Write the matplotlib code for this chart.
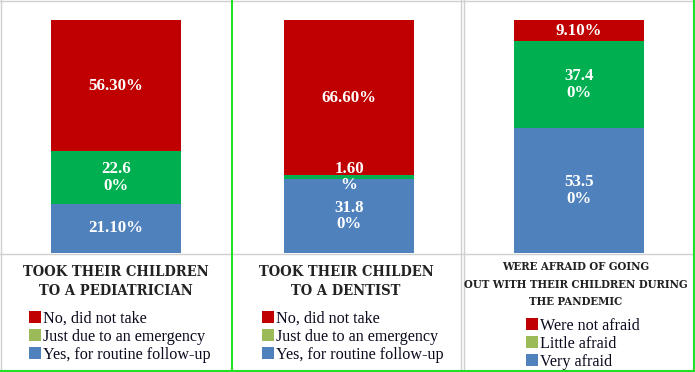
import matplotlib
matplotlib.use("Agg")
import matplotlib.pyplot as plt
from matplotlib.patches import Patch
from matplotlib.lines import Line2D

# ---- data ----
titles = ["TOOK THEIR CHILDREN\nTO A PEDIATRICIAN",
          "TOOK THEIR CHILDEN\nTO A DENTIST",
          "WERE AFRAID OF GOING\nOUT WITH THEIR CHILDREN DURING\nTHE PANDEMIC"]
legend_labels = [["No, did not take", "Just due to an emergency", "Yes, for routine follow-up"],
                 ["No, did not take", "Just due to an emergency", "Yes, for routine follow-up"],
                 ["Were not afraid", "Little afraid", "Very afraid"]]
# bottom -> top : blue, green, red
blue_vals = [21.1, 31.8, 53.5]
green_vals = [22.6, 1.6, 37.4]
red_vals = [56.3, 66.6, 9.1]
blue_labels = ["21.10%", "31.8\n0%", "53.5\n0%"]
green_labels = ["22.6\n0%", "1.60\n%", "37.4\n0%"]
red_labels = ["56.30%", "66.60%", "9.10%"]

RED = "#C00000"
GREEN = "#00B050"
BLUE = "#4F81BD"
LEG_GREEN = "#9BBB59"

W, H = 695, 372
fig = plt.figure(figsize=(W / 100, H / 100), dpi=100)

def fx(px):
    return px / W

def fy(py):
    return 1 - py / H

bar_left = [51, 284, 514]
bar_w = 130
top_px, bot_px = 20, 253

serif = "Liberation Serif"

for i in range(3):
    ax = fig.add_axes([fx(bar_left[i]), fy(bot_px), bar_w / W, (bot_px - top_px) / H])
    ax.set_xlim(-0.5, 0.5)
    ax.set_ylim(0, 100)
    ax.axis("off")
    b = blue_vals[i]
    g = green_vals[i]
    r = red_vals[i]
    ax.bar([0], [b], width=1.0, color=BLUE, linewidth=0)
    ax.bar([0], [g], bottom=[b], width=1.0, color=GREEN, linewidth=0)
    ax.bar([0], [r], bottom=[b + g], width=1.0, color=RED, linewidth=0)
    kw = dict(ha="center", va="center", color="white", fontweight="bold",
              fontsize=12.2, family=serif, linespacing=1.05)
    ax.text(0, b / 2, blue_labels[i], **kw)
    ax.text(0, b + g / 2, green_labels[i], **kw)
    ax.text(0, b + g + r / 2, red_labels[i], **kw)

# titles (condensed heavy serif)
title_cx = [116, 346, 576]
tkw = dict(ha="center", va="center", fontweight="bold", family="DejaVu Serif",
           fontstretch="condensed", color="#222222")
fig.text(fx(title_cx[0]), fy(281.5), titles[0], fontsize=10.5, linespacing=1.42, **tkw)
fig.text(fx(title_cx[1]), fy(281.5), titles[1], fontsize=10.5, linespacing=1.42, **tkw)
fig.text(fx(title_cx[2]), fy(284), titles[2], fontsize=8.2, linespacing=1.72, **tkw)

# legends
leg_pos = [(29, 311), (262, 311), (526, 318)]
for i in range(3):
    handles = [Patch(facecolor=RED, edgecolor="none"),
               Patch(facecolor=LEG_GREEN, edgecolor="none"),
               Patch(facecolor=BLUE, edgecolor="none")]
    fig.legend(handles, legend_labels[i], loc="upper left",
               bbox_to_anchor=(fx(leg_pos[i][0]), fy(leg_pos[i][1])),
               frameon=False, borderpad=0, borderaxespad=0,
               handlelength=0.75, handleheight=0.75, handletextpad=0.12,
               labelspacing=0.12, labelcolor="#0a0a1e",
               prop={"family": serif, "size": 11.6})

# panel frames
gray = "#D0D0D0"
lime = "#22E022"
def hline(y, x0, x1, c, lw=1.0):
    fig.add_artist(Line2D([fx(x0), fx(x1)], [fy(y), fy(y)], color=c, lw=lw))
def vline(x, y0, y1, c, lw=1.0):
    fig.add_artist(Line2D([fx(x), fx(x)], [fy(y0), fy(y1)], color=c, lw=lw))

hline(1, 0, 695, gray)
vline(1, 0, 372, gray)
hline(253.5, 0, 695, gray)
vline(461.5, 0, 372, gray)
vline(463.5, 0, 372, gray)
vline(232.5, 0, 372, lime, 1.5)
vline(693.5, 0, 372, lime, 1.5)
hline(370.5, 0, 695, lime, 1.5)

fig.savefig("out.png", dpi=100)
